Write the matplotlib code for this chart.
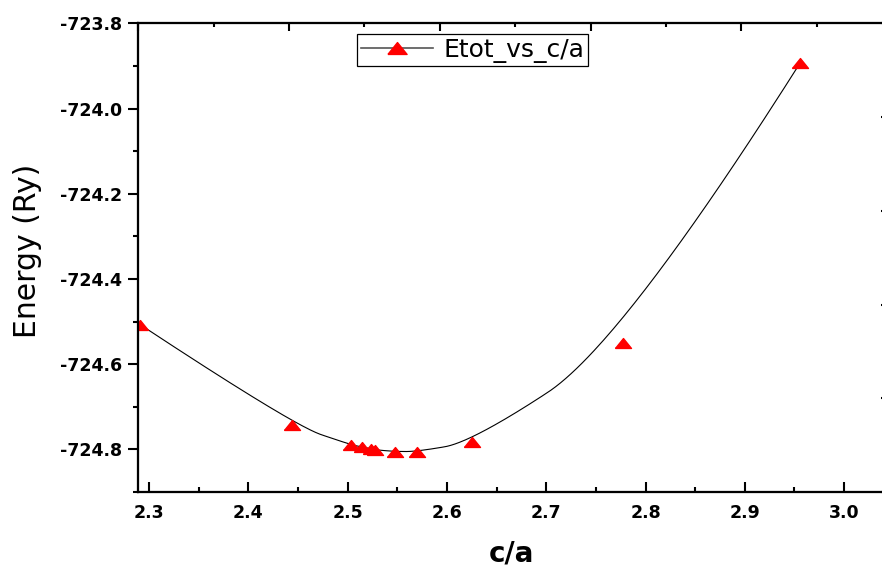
import numpy as np
import matplotlib
matplotlib.use('Agg')
import matplotlib.pyplot as plt
from matplotlib.lines import Line2D
from matplotlib.ticker import MultipleLocator, FormatStrFormatter

# total energy against c/a
c_over_a = [2.291, 2.444, 2.503, 2.514, 2.524, 2.528, 2.548, 2.570, 2.625, 2.777, 2.956]
e_tot = [-724.507, -724.742, -724.789, -724.794, -724.799, -724.801,
         -724.805, -724.805, -724.783, -724.551, -723.892]
series_name = 'Etot_vs_c/a'


def bspline(cx, cy, k=2, n=600):
    """clamped B-spline with the data points as control points"""
    cx = np.asarray(cx, float)
    cy = np.asarray(cy, float)
    m = len(cx)
    knots = np.concatenate([np.zeros(k), np.linspace(0, 1, m - k + 1), np.ones(k)])
    t = np.linspace(0, 1, n)
    N = np.zeros((n, len(knots) - 1))
    for i in range(len(knots) - 1):
        N[:, i] = (knots[i] <= t) & (t < knots[i + 1])
    N[-1, m - 1] = 1.0
    for p in range(1, k + 1):
        Nn = np.zeros((n, len(knots) - 1 - p))
        for i in range(len(knots) - 1 - p):
            d1 = knots[i + p] - knots[i]
            d2 = knots[i + p + 1] - knots[i + 1]
            a = (t - knots[i]) / d1 * N[:, i] if d1 > 0 else 0
            b = (knots[i + p + 1] - t) / d2 * N[:, i + 1] if d2 > 0 else 0
            Nn[:, i] = a + b
        N = Nn
    return N @ cx, N @ cy


W, H = 882, 571
fig = plt.figure(figsize=(W / 100, H / 100), dpi=100)
left, right, top, bottom = 138.3, 892.0, 23.3, 492.0
ax = fig.add_axes([left / W, 1 - bottom / H, (right - left) / W, (bottom - top) / H])

# flattened triangle marker
tri = [(-1, -0.62), (1, -0.62), (0, 0.62), (-1, -0.62)]

sx, sy = bspline(c_over_a, e_tot)
ax.plot(sx, sy, color='black', lw=0.8, zorder=2)
ax.plot(c_over_a, e_tot, linestyle='none', marker=tri, ms=11.5,
        color='red', mec='red', zorder=3)

ax.set_xlim(2.2892, 2.3 + (right - 149) / 993)
ax.set_ylim(-724.9, -723.8)
ax.xaxis.set_major_locator(MultipleLocator(0.1))
ax.xaxis.set_minor_locator(MultipleLocator(0.05))
ax.yaxis.set_major_locator(MultipleLocator(0.2))
ax.yaxis.set_minor_locator(MultipleLocator(0.1))
ax.xaxis.set_major_formatter(FormatStrFormatter('%.1f'))
ax.yaxis.set_major_formatter(FormatStrFormatter('%.1f'))

for s in ax.spines.values():
    s.set_linewidth(1.5)

ax.tick_params(axis='x', which='major', direction='in', length=7, width=1.5, pad=9)
ax.tick_params(axis='x', which='minor', direction='in', length=3.5, width=1.5)
ax.tick_params(axis='y', which='major', direction='out', length=7, width=1.5, pad=5)
ax.tick_params(axis='y', which='minor', direction='out', length=3.5, width=1.5)
for lab in ax.get_xticklabels() + ax.get_yticklabels():
    lab.set_fontfamily('DejaVu Sans')
    lab.set_fontweight('bold')
    lab.set_fontsize(12.5)

# second layer: top and right scales without labels
ax_t = ax.twiny()
ax_t.set_xlim(0, 5)
ax_t.xaxis.set_major_locator(MultipleLocator(1))
ax_t.xaxis.set_minor_locator(MultipleLocator(0.5))
ax_t.tick_params(axis='x', which='major', direction='in', length=6, width=1.5, labeltop=False)
ax_t.tick_params(axis='x', which='minor', direction='in', length=3, width=1.5)
ax_r = ax.twinx()
ax_r.set_ylim(0, 5)
ax_r.yaxis.set_major_locator(MultipleLocator(1))
ax_r.yaxis.set_minor_locator(MultipleLocator(0.5))
ax_r.tick_params(axis='y', which='major', direction='in', length=7.8, width=1.5, labelright=False)
ax_r.tick_params(axis='y', which='minor', direction='in', length=3, width=1.5)
for a in (ax_t, ax_r):
    for s in a.spines.values():
        s.set_linewidth(1.5)

ax.set_xlabel('c/a', fontsize=20, fontweight='bold', family='DejaVu Sans')
ax.xaxis.set_label_coords((511 - left) / (right - left), -(540 - bottom) / (bottom - top))
ax.set_ylabel('Energy (Ry)', fontsize=21.5, family='DejaVu Sans')
ax.yaxis.set_label_coords((42 - left) / (right - left), (bottom - 251) / (bottom - top))

handle = Line2D([], [], color='#555555', lw=1.2, marker=tri, ms=11.5,
                mfc='red', mec='red')
leg = ax_r.legend([handle], [series_name], loc='upper left',
                  bbox_to_anchor=((357 - left) / (right - left), (bottom - 34) / (bottom - top)),
                  borderaxespad=0, fancybox=False, framealpha=1, edgecolor='black',
                  prop={'family': 'DejaVu Sans', 'size': 18}, handlelength=2.9,
                  handletextpad=0.4, borderpad=0.15, markerscale=1.2)
leg.get_frame().set_linewidth(0.9)

fig.savefig('out.png', dpi=100)
